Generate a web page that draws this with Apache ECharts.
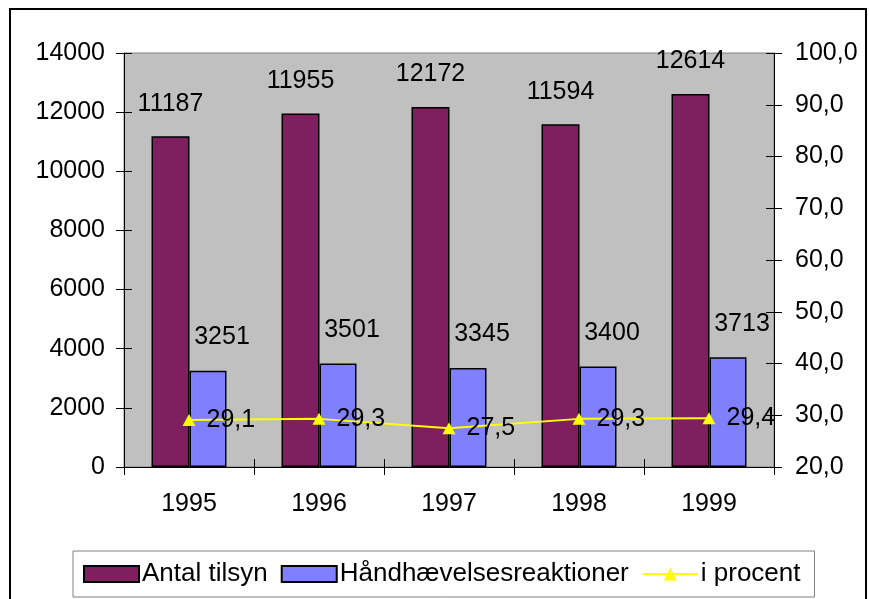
<!DOCTYPE html>
<html>
<head>
<meta charset="utf-8">
<script src="https://cdn.jsdelivr.net/npm/echarts@6/dist/echarts.min.js"></script>
<style>
    html, body { margin: 0; padding: 0; background: #fff; }
    #main { width: 869px; height: 599px; }
</style>
</head>
<body>
<div id="main"></div>
<script>
    // data
    var years = ['1995', '1996', '1997', '1998', '1999'];
    var antalTilsyn = [11187, 11955, 12172, 11594, 12614];
    var reaktioner = [3251, 3501, 3345, 3400, 3713];
    var procent = [29.1, 29.3, 27.5, 29.3, 29.4];

    var FONT = '"Liberation Sans", Arial, sans-serif';
    var FS = 25;
    var comma = function (v) { return Number(v).toFixed(1).replace('.', ','); };
    var plain = function (v) { return String(v); };

    var axisLine = { show: true, lineStyle: { color: '#000', width: 1 } };

    var option = {
        animation: false,
        textStyle: { fontFamily: FONT, color: '#000' },
        graphic: [{
            type: 'rect',
            shape: { x: 10, y: 9, width: 856, height: 620 },
            style: { fill: 'none', stroke: '#000', lineWidth: 2 },
            silent: true
        }],
        grid: {
            left: 124, right: 95, top: 53, bottom: 132,
            show: true,
            backgroundColor: '#c0c0c0',
            borderColor: '#808080',
            borderWidth: 1
        },
        legend: {
            left: 73, top: 551,
            padding: [10, 14, 10, 10],
            itemGap: 13,
            itemWidth: 55,
            itemHeight: 16,
            borderColor: '#808080',
            borderWidth: 1,
            textStyle: { fontSize: 26, fontFamily: FONT, color: '#000', padding: [0, 0, 0, -2] },
            data: [
                { name: 'Antal tilsyn', icon: 'rect' },
                { name: 'Håndhævelsesreaktioner', icon: 'rect' },
                { name: 'i procent' }
            ]
        },
        xAxis: [{
            type: 'category',
            data: years,
            axisLine: axisLine,
            axisTick: { show: true, length: 8, lineStyle: { color: '#000' } },
            axisLabel: { fontSize: FS, margin: 25, color: '#000', fontFamily: FONT }
        }, {
            type: 'category',
            data: years,
            position: 'bottom',
            axisLine: { show: false },
            axisTick: { show: true, inside: true, length: 8, lineStyle: { color: '#000' } },
            axisLabel: { show: false }
        }],
        yAxis: [{
            type: 'value',
            min: 0, max: 14000, interval: 2000,
            position: 'left',
            axisLine: axisLine,
            axisTick: { show: true, length: 8, lineStyle: { color: '#000' } },
            axisLabel: { fontSize: FS, margin: 19, color: '#000', fontFamily: FONT, formatter: plain },
            splitLine: { show: false }
        }, {
            type: 'value',
            min: 20, max: 100, interval: 10,
            position: 'right',
            axisLine: axisLine,
            axisTick: { show: true, length: 8, lineStyle: { color: '#000' } },
            axisLabel: { fontSize: FS, margin: 21, color: '#000', fontFamily: FONT, formatter: comma },
            splitLine: { show: false }
        }, {
            type: 'value',
            min: 0, max: 14000, interval: 2000,
            position: 'left',
            axisLine: { show: false },
            axisTick: { show: true, inside: true, length: 8, lineStyle: { color: '#000' } },
            axisLabel: { show: false },
            splitLine: { show: false }
        }, {
            type: 'value',
            min: 20, max: 100, interval: 10,
            position: 'right',
            axisLine: { show: false },
            axisTick: { show: true, inside: true, length: 8, lineStyle: { color: '#000' } },
            axisLabel: { show: false },
            splitLine: { show: false }
        }],
        series: [{
            name: 'Antal tilsyn',
            type: 'bar',
            barWidth: 38,
            barGap: '0%',
            itemStyle: { color: '#7f1f5f', borderColor: '#000', borderWidth: 1.5 },
            label: {
                show: true, position: 'top', distance: 20,
                fontSize: FS, color: '#000', fontFamily: FONT
            },
            data: antalTilsyn
        }, {
            name: 'Håndhævelsesreaktioner',
            type: 'bar',
            barWidth: 37,
            itemStyle: { color: '#8080ff', borderColor: '#000', borderWidth: 1.5 },
            label: {
                show: true, position: 'top', distance: 21, offset: [14, 0],
                fontSize: FS, color: '#000', fontFamily: FONT
            },
            data: reaktioner
        }, {
            name: 'i procent',
            type: 'line',
            yAxisIndex: 1,
            symbol: 'triangle',
            symbolSize: [13, 12],
            itemStyle: { color: '#ffff00' },
            lineStyle: { color: '#ffff00', width: 2 },
            label: {
                show: true, position: 'right', distance: 11,
                fontSize: FS, color: '#000', fontFamily: FONT,
                formatter: function (p) { return comma(p.value); }
            },
            z: 5,
            data: procent
        }]
    };

    var myChart = echarts.init(document.getElementById('main'));
    myChart.setOption(option);
</script>
</body>
</html>
